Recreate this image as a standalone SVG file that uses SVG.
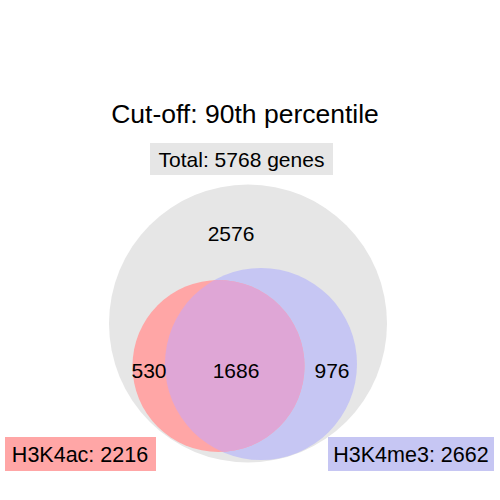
<svg xmlns="http://www.w3.org/2000/svg" width="500" height="500" viewBox="0 0 500 500">
<style>
text{font-family:"Liberation Sans",Arial,sans-serif;fill:#000;}
.t{font-size:26.5px;text-anchor:middle}
.n{font-size:21px;text-anchor:middle}
.l{font-size:21.5px;text-anchor:middle}
</style>
<defs>
<clipPath id="redClip"><circle cx="218.5" cy="366" r="86"/></clipPath>
</defs>
<rect width="500" height="500" fill="#fff"/>
<g id="title"><text class="t" x="245" y="123">Cut-off: 90th percentile</text></g>
<g id="total">
<rect x="150" y="143" width="183" height="32" fill="#e6e6e6"/>
<text class="n" x="241.5" y="167">Total: 5768 genes</text>
</g>
<g id="all"><circle cx="248" cy="323.5" r="139" fill="#e6e6e6"/></g>
<g id="h3k4me3"><circle cx="261" cy="364" r="96" fill="#c6c6f3"/></g>
<g id="h3k4ac"><circle cx="218.5" cy="366" r="86" fill="#ffa6a6"/></g>
<g id="overlap"><circle cx="261" cy="364" r="96" fill="#dfa6d6" clip-path="url(#redClip)"/></g>
<g id="counts">
<text class="n" x="231" y="241">2576</text>
<text class="n" x="149" y="378">530</text>
<text class="n" x="236" y="378">1686</text>
<text class="n" x="332" y="378">976</text>
</g>
<g id="label-ac">
<rect x="5" y="437" width="151" height="34" fill="#ffa6a6"/>
<text class="l" x="80" y="462">H3K4ac: 2216</text>
</g>
<g id="label-me3">
<rect x="328" y="437" width="166" height="34" fill="#c6c6f3"/>
<text class="l" x="411" y="462">H3K4me3: 2662</text>
</g>
</svg>
